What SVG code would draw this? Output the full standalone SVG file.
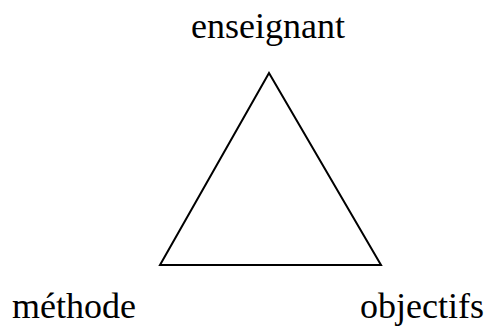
<svg xmlns="http://www.w3.org/2000/svg" width="489" height="327" viewBox="0 0 489 327">
<style>
text{font-family:"Liberation Serif","Times New Roman",serif;font-size:36px;fill:#000}
.edge{fill:none;stroke:#000;stroke-width:2;stroke-linejoin:miter}
</style>
<rect width="489" height="327" fill="#fff"/>
<g id="connectors">
<polygon class="edge" points="269,73 160,265 381,265"/>
</g>
<g id="enseignant"><text x="268" y="38" text-anchor="middle">enseignant</text></g>
<g id="methode"><text x="12" y="318">méthode</text></g>
<g id="objectifs"><text x="360" y="318">objectifs</text></g>
</svg>
